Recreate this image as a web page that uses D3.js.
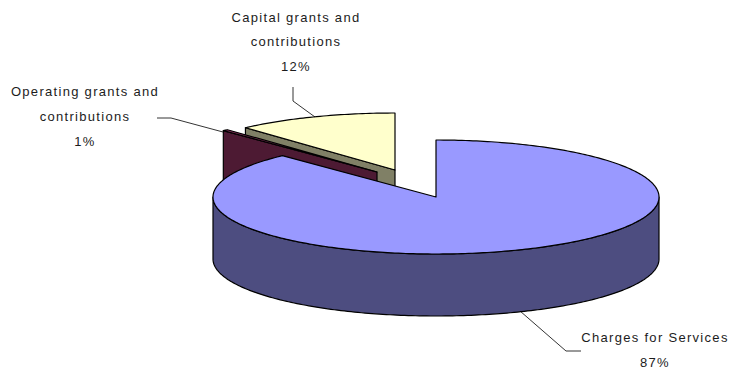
<!DOCTYPE html>
<html><head><meta charset="utf-8">
<script src="https://cdn.jsdelivr.net/npm/d3@7/dist/d3.min.js"></script>
<style>html,body{margin:0;padding:0;background:#fff}svg{display:block}
text{font-family:"Liberation Sans",Arial,sans-serif;font-size:13px;letter-spacing:1.3px;fill:#1c1c1c;text-anchor:middle}</style>
</head><body><svg id="c" width="729" height="369"></svg>
<script>
// Category names and printed percentage labels
const categories = ["Charges for Services", "Operating grants and contributions", "Capital grants and contributions"];
const percentLabels = ["87%", "1%", "12%"];
// Slice sizes as they appear in the drawn 3D perspective
const drawnShares = [87.9, 0.4, 11.7];
const topColors = ["#9999ff", "#993366", "#ffffcc"];
const wallColors = ["#4d4d80", "#4d1a33", "#808066"];

const centers = [[436,197],[377,172],[395,170]];
const rx = 223, ry = 57, depth = 62;
const svg = d3.select("#c");
const slices = d3.pie().sort(null)(drawnShares);
const line = d3.line();
const pt = (c,a,dy=0)=>[c[0]+rx*Math.sin(a), c[1]-ry*Math.cos(a)+dy];
const arcPts = (c,a0,a1,dy=0)=>{
  const n=Math.max(2,Math.ceil(Math.abs(a1-a0)*60));
  return d3.range(n+1).map(i=>pt(c,a0+(a1-a0)*i/n,dy));
};
const stroke = {stroke:"#000","stroke-width":1.2,"stroke-linejoin":"round"};
function poly(points,fill){
  const p=svg.append("path").attr("d",line(points)+"Z").attr("fill",fill);
  Object.entries(stroke).forEach(([k,v])=>p.attr(k,v));
}
// back to front: capital, operating, charges
[2,1,0].forEach(i=>{
  const s=slices[i], c=centers[i];
  const {startAngle:a0,endAngle:a1}=s;
  if(i===0){
    // visible outer wall: lower half of the rim
    const f0=Math.PI/2, f1=3*Math.PI/2;
    poly([...arcPts(c,f0,f1),...arcPts(c,f1,f0,depth)],wallColors[i]);
  } else {
    // exposed cut face along the slice's start edge
    poly([c,pt(c,a0),pt(c,a0,depth),[c[0],c[1]+depth]],wallColors[i]);
  }
  poly([c,...arcPts(c,a0,a1)],topColors[i]);
});
// leader lines
const leaders=[
  [[293,87],[293,101],[315,117]],
  [[157,118],[171,118],[223,132]],
  [[520,311],[566,351],[581,351]]
];
leaders.forEach(l=>svg.append("path").attr("d",line(l)).attr("fill","none").attr("stroke","#000").attr("stroke-width",0.8));
// labels
const labelRows=[
  {x:296,ys:[22,46,71],t:["Capital grants and","contributions",percentLabels[2]]},
  {x:85,ys:[96,121,146],t:["Operating grants and","contributions",percentLabels[1]]},
  {x:655,ys:[342,367],t:[categories[0],percentLabels[0]]}
];
labelRows.forEach(r=>r.t.forEach((t,j)=>svg.append("text").attr("x",r.x).attr("y",r.ys[j]).text(t)));
</script></body></html>
